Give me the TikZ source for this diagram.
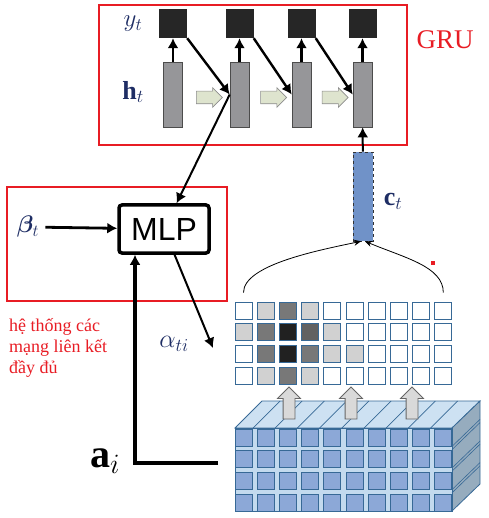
\RequirePackage{fix-cm}
\documentclass[tikz,border=0pt]{standalone}
\usepackage{amsmath,amssymb,bm}
\usepackage{fontspec}
\setmainfont{Liberation Serif}
\newfontfamily\mlpfont{Liberation Sans}
\usetikzlibrary{arrows.meta,shapes.arrows,positioning,calc}
\definecolor{framered}{RGB}{232,28,36}
\definecolor{labelnavy}{RGB}{30,45,100}
\definecolor{barfill}{RGB}{150,150,153}
\definecolor{stepgreen}{RGB}{222,228,206}
\definecolor{ctblue}{RGB}{112,146,200}
\definecolor{cellline}{RGB}{55,105,150}
\definecolor{mapfront}{RGB}{195,218,238}
\definecolor{mapcell}{RGB}{140,168,215}
\definecolor{maptop}{RGB}{205,225,242}
\definecolor{mapside}{RGB}{150,172,190}
\tikzset{
  redframe/.style={draw=framered,line width=2.6pt},
  redlabel/.style={text=framered,inner sep=0pt},
  outbox/.style={fill=black!85,minimum width=28pt,minimum height=29pt,inner sep=0pt},
  hidbar/.style={fill=barfill,draw=black!70,line width=0.6pt,minimum width=19pt,minimum height=65pt,inner sep=0pt},
  flowarrow/.style={single arrow,draw=black!45,fill=stepgreen,minimum height=26pt,inner xsep=0pt,inner ysep=6pt,
    single arrow head extend=3.5pt,line width=0.6pt},
  liftarrow/.style={single arrow,rotate=90,draw=black!60,fill=black!15,minimum height=32pt,inner xsep=0pt,
    inner ysep=5.5pt,single arrow head extend=5.5pt,line width=0.8pt},
  thickarrow/.style={line width=2.4pt,-{Latex[length=10pt,width=11pt]}},
  mathlabel/.style={text=labelnavy,inner sep=0pt},
  cell/.style={draw=cellline,line width=0.9pt,minimum width=17pt,minimum height=17pt,inner sep=0pt},
}

\begin{document}
\begin{tikzpicture}[x=1pt,y=-1pt]
\useasboundingbox (0,0) rectangle (488,518);

% GRU decoder
\draw[redframe] (99,5) rectangle (407,145);
\node[redlabel,font=\fontsize{27}{30}\selectfont] (gru) at (445,40) {GRU};
\foreach \i/\x in {1/173,2/239.5,3/301.5,4/362.5}{
  \node[outbox] (y\i) at (\x,23.5) {};
  \node[hidbar] (h\i) at (\x,94.5) {};
}
\node[mathlabel,font=\fontsize{25}{28}\selectfont] (ylab) at (133,24) {$y_t$};
\node[mathlabel,font=\fontsize{26}{30}\selectfont] (hlab) at (133,92) {$\mathbf{h}_t$};
\foreach \i in {1,...,4}
  \draw[thickarrow] (h\i) -- (y\i);
\foreach \i/\j in {1/2,2/3,3/4}{
  \draw[thickarrow] (y\i.south east) -- (h\j.west);
  \node[flowarrow] (step\i) at ($(h\i.east)!0.5!(h\j.west)+(0,3)$) {};
}

% context vector
\node[fill=ctblue,draw=black!80,dashed,line width=0.6pt,minimum width=20pt,minimum height=89pt,inner sep=0pt] (ct) at (363,196.5) {};
\node[mathlabel,font=\fontsize{26}{30}\selectfont] (ctlab) at (393,201) {$\mathbf{c}_t$};
\draw[thickarrow,line width=2pt] (ct) -- (h4);

% attention MLP
\draw[redframe] (7,187) rectangle (227,301);
\node[draw,line width=3.5pt,rounded corners=3pt,minimum width=90pt,minimum height=48pt,inner sep=0pt,
  font=\mlpfont\fontsize{32}{36}\selectfont] (mlp) at (164,229) {MLP};
\node[mathlabel,font=\fontsize{24}{28}\selectfont,inner sep=6pt] (beta) at (28,227) {$\bm{\beta}_t$};
\draw[thickarrow,line width=2.8pt] (beta) -- (mlp);
\draw[thickarrow,line width=2pt] (h2.west) -- (mlp);
\coordinate (alphaend) at (213,348);
\draw[thickarrow,line width=2pt] (mlp) -- (alphaend);
\node[mathlabel,font=\fontsize{26}{30}\selectfont] (alab) at (174,344) {$\alpha_{ti}$};
\node[redlabel,anchor=north west,align=left,font=\fontsize{18}{21}\selectfont] (note) at (9,318)
  {hệ thống các\\mạng liên kết\\đầy đủ};

% annotation input
\coordinate (aend) at (218,463);
\coordinate (aturn) at (135,463);
\draw[thickarrow,line width=3.6pt] (aend) -- (aturn) -- (aturn |- mlp.south);
\node[mathlabel,text=black,font=\fontsize{40}{44}\selectfont] (ailab) at (105,461) {$\mathbf{a}_i$};

% attention weights
\foreach \r/\row in {1/{0,18,53,18,0,0,0,0,0,0},2/{18,53,87,62,18,0,0,0,0,0},
                     3/{0,53,87,53,18,18,0,0,0,0},4/{0,18,53,18,0,0,0,0,0,0}}{
  \foreach \s [count=\c] in \row
    \node[cell,fill=black!\s] (g-\r-\c) at ({243.5+22.2*(\c-1)},{310.5+21.7*(\r-1)}) {};
}
\draw[-{Stealth[length=7pt,width=6pt]},line width=0.8pt] ($(g-1-1.north)+(0,-9)$)
  .. controls +(0,-28) and (320,250) .. ($(ct.south)+(-2,0)$);
\draw[-{Stealth[length=7pt,width=6pt]},line width=0.8pt] ($(g-1-10.north)+(0,-9)$)
  .. controls +(0,-26) and (405,258) .. ($(ct.south)+(2,0)$);
\fill[framered] (431,261) rectangle (435,265);

% feature map
\filldraw[fill=maptop,draw=cellline,line width=0.8pt] (235,428) -- (262,401) -- (480,401) -- (452,428) -- cycle;
\filldraw[fill=mapside,draw=cellline,line width=0.8pt] (452,428) -- (480,401) -- (480,484) -- (452,511) -- cycle;
\filldraw[fill=mapfront,draw=cellline,line width=0.8pt] (235,428) rectangle (452,511);
\foreach \k in {1,...,9}
  \draw[cellline,line width=0.7pt] ({253+22.2*(\k-1)},428) -- ++(27,-27);
\foreach \k in {1,...,3}
  \foreach \d in {-1.6,1.6}
    \draw[cellline,line width=0.6pt] (452,{448+\d+21.6*(\k-1)}) -- ++(28,-27);
\foreach \r in {1,...,4}
  \foreach \c in {1,...,10}
    \node[cell,fill=mapcell] (f-\r-\c) at ({243.5+22.2*(\c-1)},{437.5+21.7*(\r-1)}) {};
\foreach \x [count=\k] in {289,351,412}
  \node[liftarrow] (lift\k) at (\x,406) {};
\end{tikzpicture}
\end{document}
